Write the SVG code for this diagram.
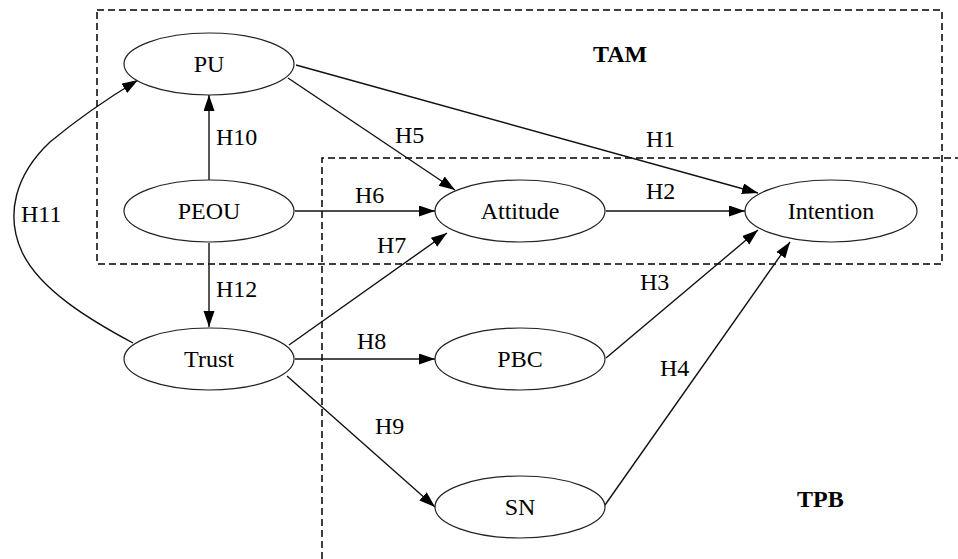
<svg xmlns="http://www.w3.org/2000/svg" width="958" height="559" viewBox="0 0 958 559">
  <style>
    .box { fill: none; stroke: #000; stroke-width: 1.5; stroke-dasharray: 7 4; }
    .node ellipse { fill: #fff; stroke: #222; stroke-width: 1.2; }
    .node text, .lbl { font-family: "Liberation Serif", "Times New Roman", "DejaVu Serif", serif; font-size: 24px; fill: #000; }
    .node text { text-anchor: middle; }
    .title { font-family: "Liberation Serif", "Times New Roman", "DejaVu Serif", serif; font-size: 24px; font-weight: bold; fill: #000; }
    .edge { fill: none; stroke: #111; stroke-width: 1.4; marker-end: url(#arrow); }
  </style>
  <defs>
    <marker id="arrow" markerUnits="userSpaceOnUse" markerWidth="17" markerHeight="12" refX="16" refY="5.5" orient="auto">
      <path d="M0,0 L16,5.5 L0,11 z" fill="#000"/>
    </marker>
  </defs>
  <rect width="958" height="559" fill="#fff"/>

  <!-- model boundaries -->
  <g id="groups">
    <rect class="box" x="97" y="10" width="845" height="254"/>
    <path class="box" d="M322,559 V158 H960"/>
    <text class="title" x="593" y="62">TAM</text>
    <text class="title" x="797" y="507">TPB</text>
  </g>

  <!-- hypothesised paths -->
  <g id="connectors">
    <path class="edge" d="M296,65 L758,193"/>
    <path class="edge" d="M288,78 L455,190"/>
    <path class="edge" d="M209,180 V95"/>
    <path class="edge" d="M295,211 H435"/>
    <path class="edge" d="M606,211 H745"/>
    <path class="edge" d="M209,243 V327"/>
    <path class="edge" d="M289,345 L447,233"/>
    <path class="edge" d="M295,359 H435"/>
    <path class="edge" d="M287,376 L435,507"/>
    <path class="edge" d="M606,358 L758,230"/>
    <path class="edge" d="M605,505 L790,242"/>
    <path class="edge" d="M133,343 C90,320 40,290 22,252 C5,215 15,175 50,142 C80,117 110,97 138,80"/>
    <text class="lbl" x="646" y="147">H1</text>
    <text class="lbl" x="646" y="199">H2</text>
    <text class="lbl" x="640" y="290">H3</text>
    <text class="lbl" x="660" y="376">H4</text>
    <text class="lbl" x="395" y="143">H5</text>
    <text class="lbl" x="355" y="203">H6</text>
    <text class="lbl" x="377" y="253">H7</text>
    <text class="lbl" x="357" y="349">H8</text>
    <text class="lbl" x="375" y="434">H9</text>
    <text class="lbl" x="216" y="145">H10</text>
    <text class="lbl" x="21" y="222">H11</text>
    <text class="lbl" x="216" y="297">H12</text>
  </g>

  <g id="PU" class="node"><ellipse cx="209" cy="64" rx="85" ry="31"/><text x="209" y="72">PU</text></g>
  <g id="PEOU" class="node"><ellipse cx="209" cy="211" rx="85" ry="31"/><text x="209" y="219">PEOU</text></g>
  <g id="Trust" class="node"><ellipse cx="209" cy="359" rx="85" ry="31"/><text x="209" y="367">Trust</text></g>
  <g id="Attitude" class="node"><ellipse cx="520" cy="211" rx="85" ry="31"/><text x="520" y="219">Attitude</text></g>
  <g id="Intention" class="node"><ellipse cx="831" cy="211" rx="86" ry="31"/><text x="831" y="219">Intention</text></g>
  <g id="PBC" class="node"><ellipse cx="520" cy="359" rx="85" ry="31"/><text x="520" y="367">PBC</text></g>
  <g id="SN" class="node"><ellipse cx="520" cy="507" rx="85" ry="31"/><text x="520" y="515">SN</text></g>
</svg>
